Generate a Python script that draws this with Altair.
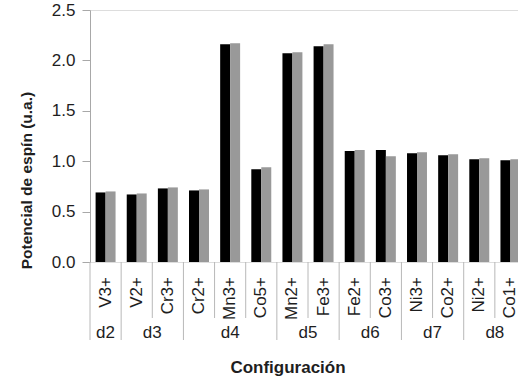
import altair as alt
import pandas as pd

# Ions (one category each) and the d-configuration they belong to
iones = ["V3+", "V2+", "Cr3+", "Cr2+", "Mn3+", "Co5+", "Mn2+",
         "Fe3+", "Fe2+", "Co3+", "Ni3+", "Co2+", "Ni2+", "Co1+"]
configuraciones = ["d2", "d3", "d3", "d4", "d4", "d4", "d5",
                   "d5", "d6", "d6", "d7", "d7", "d8", "d8"]

# Spin potential (u.a.) for the two series
serie_1 = [0.69, 0.67, 0.73, 0.71, 2.16, 0.92, 2.07,
           2.14, 1.10, 1.11, 1.08, 1.06, 1.02, 1.01]
serie_2 = [0.70, 0.68, 0.74, 0.72, 2.17, 0.94, 2.08,
           2.16, 1.11, 1.05, 1.09, 1.07, 1.03, 1.02]
series = ["Serie 1", "Serie 2"]
colores = ["#000000", "#999999"]

W, H = 436, 252
FONT = "Liberation Sans"
GRIS_EJE = "#a8a8a8"
GRIS_SEP = "#b8b8b8"
TXT = "#1e1e1e"

barras = pd.DataFrame({
    "ion": iones * 2,
    "serie": [series[0]] * len(iones) + [series[1]] * len(iones),
    "valor": serie_1 + serie_2,
})

# separators between categories: long ones where a new configuration starts
sep = pd.DataFrame({
    "ion": iones,
    "inicio": [i == 0 or configuraciones[i] != configuraciones[i - 1]
               for i in range(len(iones))],
})
sep_cortos = sep[~sep["inicio"]]
sep_largos = sep[sep["inicio"]]
fin = pd.DataFrame({"ion": [iones[-1]]})

# group label anchors: odd-sized groups on the middle ion, even-sized on the
# right edge of the ion just before the group's midpoint
grupos = []
for c in dict.fromkeys(configuraciones):
    idx = [i for i, g in enumerate(configuraciones) if g == c]
    n = len(idx)
    if n % 2:
        grupos.append({"config": c, "ion": iones[idx[(n - 1) // 2]], "par": False})
    else:
        grupos.append({"config": c, "ion": iones[idx[n // 2 - 1]], "par": True})
grupos = pd.DataFrame(grupos)

x_scale = alt.Scale(domain=iones, paddingInner=0, paddingOuter=0)


def xpos(band=None, axis=False):
    kw = {}
    if band is not None:
        kw["bandPosition"] = band
    if axis:
        kw["axis"] = alt.Axis(labels=False, ticks=False, domainColor=GRIS_EJE,
                              title=None)
    else:
        kw["axis"] = None
    return alt.X("ion:N", sort=iones, scale=x_scale, **kw)


bars = alt.Chart(barras).mark_bar().encode(
    x=xpos(axis=True),
    xOffset=alt.XOffset("serie:N", sort=series,
                        scale=alt.Scale(paddingInner=0, paddingOuter=0.56)),
    y=alt.Y("valor:Q",
            scale=alt.Scale(domain=[0, 2.5], nice=False),
            axis=alt.Axis(values=[0, 0.5, 1.0, 1.5, 2.0, 2.5], format=".1f",
                          grid=False, tickSize=8, labelPadding=7,
                          labelFont=FONT, labelFontSize=17, labelColor=TXT,
                          domainColor=GRIS_EJE, tickColor=GRIS_EJE,
                          title="Potencial de espín (u.a.)", titleFont=FONT,
                          titleFontSize=15.5, titleFontWeight="bold",
                          titleColor=TXT, titleAngle=270, titleX=-64,
                          titleY=170, titleAlign="center",
                          titleBaseline="middle", titleAnchor="start")),
    color=alt.Color("serie:N", scale=alt.Scale(domain=series, range=colores),
                    legend=None),
)

rule_corto = alt.Chart(sep_cortos).mark_rule(color=GRIS_SEP).encode(
    x=xpos(band=0), y=alt.value(H), y2=alt.value(H + 56))
rule_largo = alt.Chart(sep_largos).mark_rule(color=GRIS_SEP).encode(
    x=xpos(band=0), y=alt.value(H), y2=alt.value(H + 78))
rule_fin = alt.Chart(fin).mark_rule(color=GRIS_SEP).encode(
    x=xpos(band=1), y=alt.value(H), y2=alt.value(H + 78))

etiquetas = alt.Chart(pd.DataFrame({"ion": iones})).mark_text(
    angle=270, align="right", baseline="middle", font=FONT, fontSize=17,
    color=TXT).encode(x=xpos(), y=alt.value(H + 15), text="ion:N")

grupo_impar = alt.Chart(grupos[~grupos["par"]]).mark_text(
    align="center", baseline="alphabetic", font=FONT, fontSize=17,
    color=TXT).encode(x=xpos(band=0.5), y=alt.value(H + 76), text="config:N")
grupo_par = alt.Chart(grupos[grupos["par"]]).mark_text(
    align="center", baseline="alphabetic", font=FONT, fontSize=17,
    color=TXT).encode(x=xpos(band=1), y=alt.value(H + 76), text="config:N")

# x-axis title below the two-level category labels
titulo_x = alt.Chart(pd.DataFrame({"t": ["Configuración"]})).mark_text(
    align="center", baseline="middle", font=FONT, fontSize=17,
    fontWeight="bold", color=TXT).encode(
    x=alt.value(198), y=alt.value(H + 106), text="t:N")

chart = alt.layer(
    bars, rule_corto, rule_largo, rule_fin, etiquetas, grupo_impar, grupo_par,
    titulo_x
).properties(
    width=W, height=H,
    padding={"left": 90, "top": 10, "right": -8, "bottom": 123},
    autosize=alt.AutoSizeParams(type="none"),
).configure_view(stroke=None).configure(font=FONT)

chart.save("out.html", embed_options={"renderer": "svg", "actions": False})
